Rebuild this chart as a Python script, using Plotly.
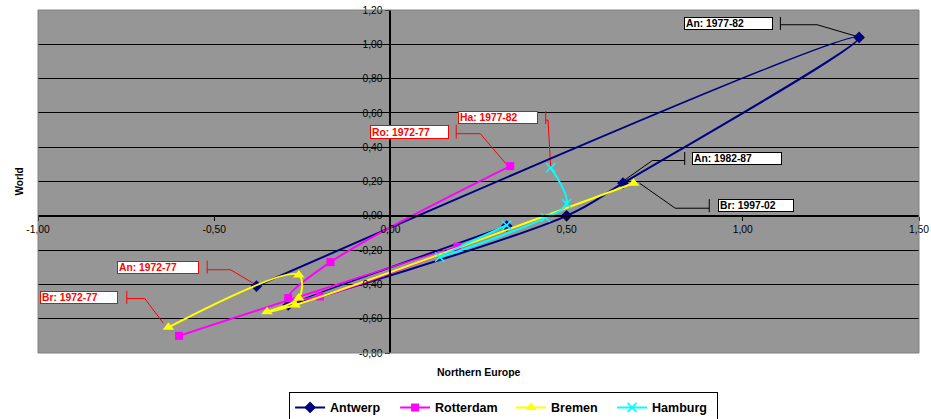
import plotly.graph_objects as go

# ---------------- data ----------------
antwerp_x = [-0.38, 1.33, 0.66, 0.50, -0.29, 0.33]
antwerp_y = [-0.41, 1.04, 0.19, 0.00, -0.52, -0.06]

rotterdam_x = [0.34, -0.17, -0.29, -0.20, 0.19, -0.60]
rotterdam_y = [0.29, -0.27, -0.48, -0.47, -0.18, -0.70]

bremen_x = [-0.63, -0.26, -0.26, -0.35, -0.27, 0.69]
bremen_y = [-0.65, -0.345, -0.48, -0.56, -0.52, 0.19]

hamburg_x = [0.455, 0.50, 0.44, 0.14, 0.33]
hamburg_y = [0.28, 0.07, -0.01, -0.24, -0.055]

x_tick_vals = [-1.0, -0.5, 0.0, 0.5, 1.0, 1.5]
x_tick_text = ["-1,00", "-0,50", "0,00", "0,50", "1,00", "1,50"]
y_tick_vals = [-0.8, -0.6, -0.4, -0.2, 0.0, 0.2, 0.4, 0.6, 0.8, 1.0, 1.2]
y_tick_text = ["-0,80", "-0,60", "-0,40", "-0,20", "0,00", "0,20", "0,40",
               "0,60", "0,80", "1,00", "1,20"]

series_names = ["Antwerp", "Rotterdam", "Bremen", "Hamburg"]

FONT = "Liberation Sans, Arial, sans-serif"

fig = go.Figure()

styles = {
    "Antwerp": dict(color="#000080", symbol="diamond", size=9, lw=2, legendwidth=60),
    "Rotterdam": dict(color="#FF00FF", symbol="square", size=8, lw=2, legendwidth=71),
    "Bremen": dict(color="#FFFF00", symbol="triangle-up", size=10, lw=2, legendwidth=56),
    "Hamburg": dict(color="#00FFFF", symbol="x-thin", size=9, lw=2, legendwidth=60),
}
data = {
    "Antwerp": (antwerp_x, antwerp_y),
    "Rotterdam": (rotterdam_x, rotterdam_y),
    "Bremen": (bremen_x, bremen_y),
    "Hamburg": (hamburg_x, hamburg_y),
}

for name in series_names:
    st = styles[name]
    xs, ys = data[name]
    marker = dict(symbol=st["symbol"], size=st["size"], color=st["color"])
    if st["symbol"] == "x-thin":
        marker["line"] = dict(color=st["color"], width=1.6)
    else:
        marker["line"] = dict(width=0)
    fig.add_trace(go.Scatter(
        x=xs, y=ys, name=name, mode="lines+markers",
        line=dict(color=st["color"], width=st["lw"], shape="spline", smoothing=1.0),
        marker=marker, legendwidth=st["legendwidth"],
    ))

# ---------------- callout labels ----------------
# (series, point index, text, colour, box dx, box dy (up), box w, box h,
#  tick x, horizontal y, horizontal end x, end point) -- offsets in pixels
callouts = [
    ("Antwerp", 1, "An: 1977-82", "black", -130.5, 14.0, 89, 13, -78.7, 12.7, -42, (-2, 1)),
    ("Antwerp", 2, "An: 1982-87", "black", 114.4, 24.7, 90, 13, 61.7, 22.7, 29.4, (0, 2)),
    ("Bremen", 5, "Br: 1997-02", "black", 122.0, -22.4, 76, 13, 75.7, -25.0, 41.7, (6, 0)),
    ("Hamburg", 0, "Ha: 1977-82", "#FF0000", -52.5, 50.2, 80, 13, -5.0, 47.7, -2.7, (0, 0)),
    ("Rotterdam", 0, "Ro: 1972-77", "#FF0000", -101.2, 34.4, 79, 14, -54.0, 32.4, -30.0, (-4, 2)),
    ("Antwerp", 0, "An: 1972-77", "#FF0000", -98.3, 19.0, 82, 13, -49.3, 16.4, -26.0, (0, 1)),
    ("Bremen", 0, "Br: 1972-77", "#FF0000", -89.0, 30.0, 78, 13, -41.6, 28.7, -23.6, (-5, 4)),
]

shapes = []
annotations = []
for (ser, idx, text, col, dx, dy, bw, bh, tx, hy, hx, endp) in callouts:
    px = data[ser][0][idx]
    py = data[ser][1][idx]
    path = (f"M{tx},{dy + bh / 2} L{tx},{dy - bh / 2} "
            f"M{tx},{hy} L{hx},{hy} L{endp[0]},{endp[1]}")
    shapes.append(dict(
        type="path", xref="x", yref="y", xsizemode="pixel", ysizemode="pixel",
        xanchor=px, yanchor=py, path=path, layer="between",
        line=dict(color=col, width=1),
    ))
    annotations.append(dict(
        x=px, y=py, xref="x", yref="y", showarrow=False,
        xshift=dx, yshift=dy, xanchor="center", yanchor="middle",
        text=f"<b>{text}</b>", align="left", valign="middle",
        width=bw - 4, height=bh - 4, borderpad=1, borderwidth=1,
        bordercolor=col, bgcolor="white",
        font=dict(family=FONT, size=10.3, color=col),
    ))

# plot-area border
shapes.append(dict(type="rect", xref="paper", yref="paper", x0=0, x1=1, y0=0, y1=1,
                   line=dict(color="#808080", width=1), layer="above"))

# axis titles
annotations.append(dict(x=-0.029, y=0.50, xref="paper", yref="paper", showarrow=False,
                        text="<b>World</b>", textangle=-90,
                        font=dict(family=FONT, size=10, color="black")))
annotations.append(dict(x=0.5006, y=-0.0545, xref="paper", yref="paper", showarrow=False,
                        text="<b>Northern Europe</b>", yanchor="middle",
                        font=dict(family=FONT, size=10.5, color="black")))

fig.update_layout(
    width=931, height=419,
    margin=dict(l=38, r=12, t=10, b=66, autoexpand=False),
    paper_bgcolor="white", plot_bgcolor="#969696",
    font=dict(family=FONT, size=10, color="black"),
    showlegend=True,
    legend=dict(
        orientation="h", x=0.285, xanchor="left", y=-0.113, yanchor="top",
        bordercolor="black", borderwidth=1, bgcolor="white",
        font=dict(family=FONT, size=12.5, color="black", weight="bold"),
        itemwidth=30, tracegroupgap=0,
    ),
    xaxis=dict(
        range=[-1.0, 1.5], anchor="free", position=0.4,
        tickvals=x_tick_vals, ticktext=x_tick_text,
        showgrid=False, zeroline=False,
        showline=True, linecolor="black", linewidth=1.5,
        ticks="outside", ticklen=4, tickcolor="black", tickwidth=1,
        tickfont=dict(family=FONT, size=10.3, color="black"),
    ),
    yaxis=dict(
        range=[-0.8, 1.2], anchor="free", position=0.4,
        tickvals=y_tick_vals, ticktext=y_tick_text,
        showgrid=True, gridcolor="black", gridwidth=1, zeroline=False,
        showline=True, linecolor="black", linewidth=1.5,
        ticks="outside", ticklen=5, tickcolor="black", tickwidth=1,
        tickfont=dict(family=FONT, size=10.3, color="black"),
    ),
    shapes=shapes, annotations=annotations,
)

fig.write_html(
    "out.html",
    config={"displayModeBar": False},
    post_script="document.body.style.margin='0px';document.body.style.padding='0px';"
                "document.documentElement.style.overflow='hidden';",
)
